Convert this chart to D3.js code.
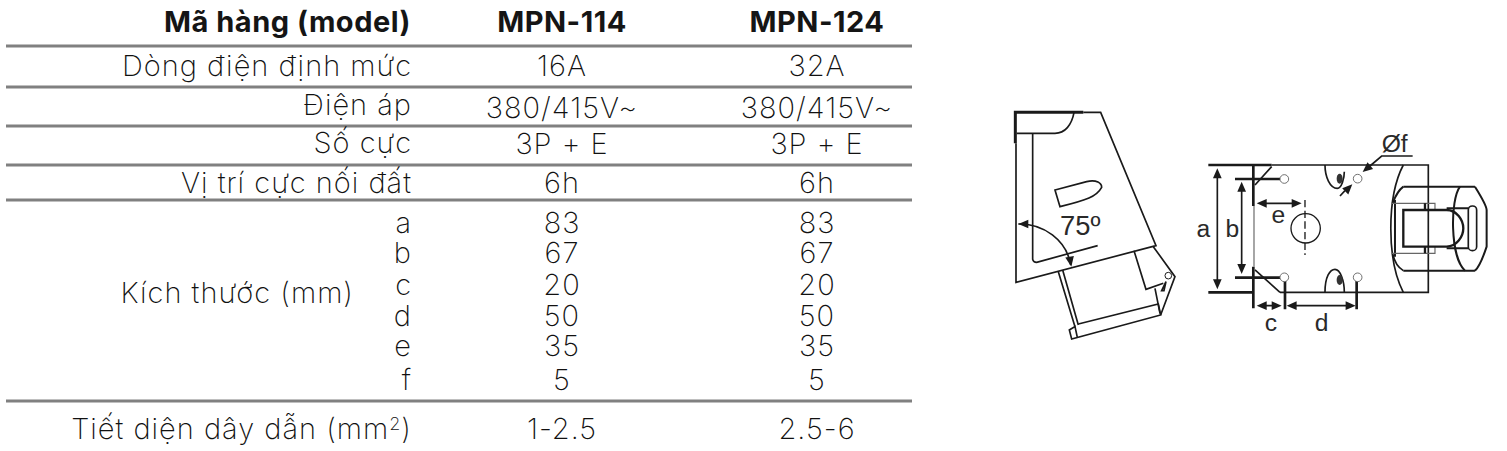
<!DOCTYPE html>
<html lang="vi">
<head>
<meta charset="UTF-8">
<title>MPN-114 / MPN-124</title>
<script src="https://d3js.org/d3.v7.min.js"></script>
<style>
  html, body { margin: 0; padding: 0; background: #fff; }
  svg { display: block; }
  .cell { font-family: "Inter", sans-serif; font-weight: 200; font-size: 29px; letter-spacing: 1px; fill: #111; }
  .head { font-family: "Inter", sans-serif; font-weight: 700; font-size: 29px; letter-spacing: 0.5px; fill: #151515; }
  .dim { font-family: "Liberation Sans", Arial, sans-serif; font-size: 74px; fill: #2a2a2a; }
</style>
</head>
<body>
<svg id="chart" width="1507" height="451"></svg>
<script>
// table content
const models = ["MPN-114", "MPN-124"];
const rowLabels = ["Dòng điện định mức", "Điện áp", "Số cực", "Vị trí cực nối đất"];
const rowValues = [["16A", "32A"], ["380/415V~", "380/415V~"], ["3P + E", "3P + E"], ["6h", "6h"]];
const dimNames = ["a", "b", "c", "d", "e", "f"];
const dimValues = [["83", "83"], ["67", "67"], ["20", "20"], ["50", "50"], ["35", "35"], ["5", "5"]];

// layout
const svg = d3.select("#chart");
const colX = d3.scaleOrdinal().domain(models).range([562, 817]);
const rowY = d3.scaleOrdinal().domain(rowLabels).range([76, 115, 153, 193]);
const valY = d3.scaleOrdinal().domain(rowLabels).range([76, 118, 154, 193]);
const dimY = d3.scaleOrdinal().domain(dimNames).range([233, 263, 295, 326, 356, 390]);
const rules = [46, 87, 126, 165, 200, 401];

svg.selectAll("line.rule").data(rules).enter().append("line")
  .attr("class", "rule")
  .attr("x1", 6).attr("x2", 912)
  .attr("y1", d => d).attr("y2", d => d)
  .attr("stroke", "#808080").attr("stroke-width", 3);

function txt(cls, x, y, s, anchor) {
  return svg.append("text").attr("class", cls).attr("x", x).attr("y", y)
    .attr("text-anchor", anchor).text(s);
}

txt("head", 411, 32, "Mã hàng (model)", "end");
models.forEach(m => txt("head", colX(m), 32, m, "middle"));

rowLabels.forEach((r, i) => {
  txt("cell", 412, rowY(r), r, "end");
  models.forEach((m, j) => txt("cell", colX(m), valY(r), rowValues[i][j], "middle"));
});

txt("cell", 354, 303, "Kích thước (mm)", "end");
dimNames.forEach((n, i) => {
  txt("cell", 412, dimY(n), n, "end");
  models.forEach((m, j) => txt("cell", colX(m), dimY(n), dimValues[i][j], "middle"));
});

const last = txt("cell", 412, 439, "", "end");
last.append("tspan").text("Tiết diện dây dẫn (mm");
last.append("tspan").attr("font-size", 18).attr("dy", -9).text("2");
last.append("tspan").attr("dy", 9).text(")");
txt("cell", colX(models[0]), 439, "1-2.5", "middle");
txt("cell", colX(models[1]), 439, "2.5-6", "middle");

// drawings, in 3x units
function arrow(g, x, y, deg) {
  g.append("path").attr("d", "M0,0 L-30,-13 L-30,13 Z")
    .attr("fill", "#1a1a1a")
    .attr("transform", `translate(${x},${y}) rotate(${deg})`);
}
function lines(g, list, width, color) {
  g.selectAll(null).data(list).enter().append("path")
    .attr("d", d => d).attr("fill", "none")
    .attr("stroke", color || "#1a1a1a").attr("stroke-width", width);
}

// side view
const side = svg.append("g").attr("transform", "translate(990,100) scale(0.3333)");
lines(side, ["M76,130 V37 H280"], 9);
lines(side, [
  "M78,130 V547 L498,437 L332,37 H280",
  "M80,100 H195 C225,100 245,75 252,38",
  "M128,100 V478 Q130,487 140,487 L323,437",
  "M195,270 L290,245 C320,238 335,250 335,262 C320,290 290,300 210,320 Z",
  "M85,372 C160,370 230,420 242,495",
  "M205,515 L255,680 M218,510 L265,675",
  "M265,672 L505,612 L512,645 L245,717 L238,690 L255,680 L262,712",
  "M432,452 L468,568 L520,550",
  "M490,440 L555,530 L512,645 M495,565 L510,640",
  "M515,572 L528,545 L522,572 Z"
], 5);
side.append("circle").attr("cx", 535).attr("cy", 527).attr("r", 10)
  .attr("fill", "none").attr("stroke", "#1a1a1a").attr("stroke-width", 3);
arrow(side, 85, 372, 180);
arrow(side, 244, 500, 80);
side.append("text").attr("class", "dim").attr("x", 210).attr("y", 405).attr("font-size", 82)
  .style("font-size", "82px").text("75º");

// front view
const front = svg.append("g").attr("transform", "translate(1190,120) scale(0.3333)");
lines(front, [
  "M55,135 H245 M55,517 H190 M135,177 H270 M135,473 H270",
  "M190,135 V258 M190,440 V565 M285,470 V568 M500,470 V568"
], 8);
lines(front, [
  "M245,135 H715 V517 H270",
  "M195,195 L245,140 M195,450 L270,517",
  "M405,135 C405,170 420,205 442,205 C455,205 463,175 463,155",
  "M405,517 C405,470 420,448 435,448 C450,448 463,480 463,517",
  "M640,135 C590,230 590,420 640,517",
  "M640,452 C620,440 612,420 608,400"
], 5);
lines(front, [
  "M640,200 H855 M640,452 H855",
  "M640,200 C620,215 612,240 608,250",
  "M810,200 C780,240 780,410 825,452",
  "M855,200 C880,240 890,260 890,270 V380 C880,410 870,440 855,452",
  "M770,265 H835 M770,385 H835 M615,240 V410"
], 6);
lines(front, ["M192,258 V440", "M605,250 H735 V270 M605,400 H735 V380"], 3.5, "#666");
lines(front, [
  "M640,270 H770 C800,270 820,300 820,325 C820,350 800,380 770,380 H640 Z",
  "M705,250 V270 M705,380 V400"
], 7);
front.append("rect").attr("x", 835).attr("y", 258).attr("width", 25).attr("height", 134).attr("rx", 12)
  .attr("fill", "none").attr("stroke", "#1a1a1a").attr("stroke-width", 5);
lines(front, ["M345,240 V405"], 4);
front.select("path:last-of-type").attr("stroke-dasharray", "22 10");

const holes = [[283, 177], [503, 176], [283, 472], [503, 472]];
front.selectAll("circle.hole").data(holes).enter().append("circle")
  .attr("class", "hole").attr("cx", d => d[0]).attr("cy", d => d[1]).attr("r", 13)
  .attr("fill", "#fff").attr("stroke", "#555").attr("stroke-width", 2.5);
front.append("circle").attr("cx", 347).attr("cy", 325).attr("r", 44)
  .attr("fill", "none").attr("stroke", "#1a1a1a").attr("stroke-width", 4);
front.selectAll("ellipse").data([176, 480]).enter().append("ellipse")
  .attr("cx", 449).attr("cy", d => d).attr("rx", 9).attr("ry", 15).attr("fill", "#333");

// dimension arrows
lines(front, [
  "M82,165 V490 M155,205 V445 M225,250 H310 M218,557 H255 M315,557 H470",
  "M668,108 H575 L540,138 M450,228 L465,212"
], 5);
arrow(front, 82, 145, -90); arrow(front, 82, 508, 90);
arrow(front, 155, 185, -90); arrow(front, 155, 462, 90);
arrow(front, 200, 250, 180); arrow(front, 335, 250, 0);
arrow(front, 200, 557, 180); arrow(front, 275, 557, 0);
arrow(front, 290, 557, 180); arrow(front, 497, 557, 0);
arrow(front, 518, 156, 140); arrow(front, 487, 193, -45);

[["a", 40, 352], ["b", 127, 352], ["e", 265, 310], ["c", 243, 634], ["d", 395, 634]].forEach(d => {
  front.append("text").attr("class", "dim").attr("x", d[1]).attr("y", d[2])
    .attr("text-anchor", "middle").text(d[0]);
});
front.append("text").attr("class", "dim").attr("x", 575).attr("y", 95).text("Øf");
</script>
</body>
</html>
